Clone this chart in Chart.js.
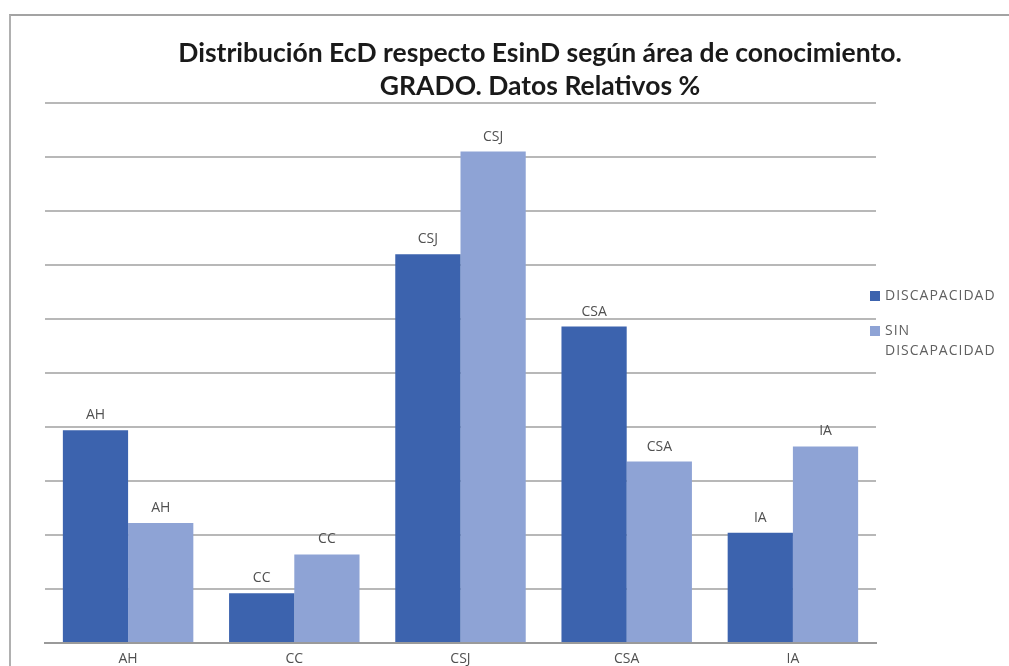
<!DOCTYPE html>
<html>
<head>
<meta charset="utf-8">
<script src="https://cdn.jsdelivr.net/npm/chart.js@4.4.1/dist/chart.umd.min.js"></script>
<style>
  html, body { margin: 0; padding: 0; background: #ffffff; overflow: hidden; }
  #frame { position: absolute; left: 9px; top: 14px; width: 1100px; height: 760px;
           border-top: 2px solid #a3a3a3; border-left: 2px solid #b0b0b0; }
  #wrap { position: absolute; left: 0; top: 0; width: 1009px; height: 690px; }
</style>
</head>
<body>
<div id="frame"></div>
<div id="wrap"><canvas id="c"></canvas></div>
<script>
const categories = ["AH", "CC", "CSJ", "CSA", "IA"];
const seriesNames = ["DISCAPACIDAD", "SIN DISCAPACIDAD"];
const legendLines = [["DISCAPACIDAD"], ["SIN", "DISCAPACIDAD"]];
const discapacidad = [19.7, 4.6, 36.0, 29.3, 10.2];
const sinDiscapacidad = [11.1, 8.2, 45.5, 16.8, 18.2];
const titleLines = ["Distribución EcD respecto EsinD según área de conocimiento.", "GRADO. Datos Relativos %"];
const yMax = 50;
const yStep = 5;

const colors = ["#3C63AE", "#8EA3D5"];

const overlay = {
  id: 'overlay',
  afterDatasetsDraw(chart) {
    const ctx = chart.ctx;
    ctx.save();
    // data labels (category name above each bar)
    ctx.font = '14px "Open Sans", sans-serif';
    ctx.fillStyle = '#505050';
    ctx.textAlign = 'center';
    ctx.textBaseline = 'alphabetic';
    chart.data.datasets.forEach((ds, di) => {
      const meta = chart.getDatasetMeta(di);
      meta.data.forEach((bar, i) => {
        ctx.fillText(chart.data.labels[i], bar.x, bar.y - 11);
      });
    });
    // title
    const area = chart.chartArea;
    ctx.font = 'bold 26.5px Lato, "Open Sans", sans-serif';
    ctx.fillStyle = '#1a1a1a';
    ctx.textAlign = 'center';
    const cx = 540;
    ctx.fillText(titleLines[0], cx, 62);
    ctx.fillText(titleLines[1], cx, 95);
    // legend
    ctx.textAlign = 'left';
    ctx.textBaseline = 'middle';
    ctx.font = '14px "Open Sans", sans-serif';
    try { ctx.letterSpacing = '1px'; } catch (e) {}
    const lx = area.right - 6;
    const rows = [296, 331];
    chart.data.datasets.forEach((ds, di) => {
      const y = rows[di];
      ctx.fillStyle = ds.backgroundColor;
      ctx.fillRect(lx, y - 5, 10, 10);
      ctx.fillStyle = '#606060';
      legendLines[di].forEach((t, k) => {
        ctx.fillText(t, lx + 15, y + k * 20);
      });
    });
    ctx.restore();
  }
};

new Chart(document.getElementById('c'), {
  type: 'bar',
  data: {
    labels: categories,
    datasets: [
      { label: seriesNames[0], data: discapacidad, backgroundColor: colors[0], borderWidth: 0,
        categoryPercentage: 0.785, barPercentage: 1.0 },
      { label: seriesNames[1], data: sinDiscapacidad, backgroundColor: colors[1], borderWidth: 0,
        categoryPercentage: 0.785, barPercentage: 1.0 }
    ]
  },
  options: {
    responsive: true,
    maintainAspectRatio: false,
    animation: false,
    layout: { padding: { left: 45, right: 133, top: 103, bottom: 0 } },
    plugins: {
      legend: { display: false },
      title: { display: false },
      tooltip: { enabled: false }
    },
    scales: {
      x: {
        grid: { display: false, drawTicks: false },
        border: { display: true, color: '#9a9a9a', width: 2 },
        ticks: { color: '#505050', font: { family: '"Open Sans", sans-serif', size: 14 }, padding: 8 },
        afterFit: (s) => { s.height = 47; }
      },
      y: {
        min: 0,
        max: yMax,
        ticks: { display: false, stepSize: yStep },
        border: { display: false },
        grid: { color: '#b8b8b8', lineWidth: 2, drawTicks: false }
      }
    }
  },
  plugins: [overlay]
});
</script>
</body>
</html>
